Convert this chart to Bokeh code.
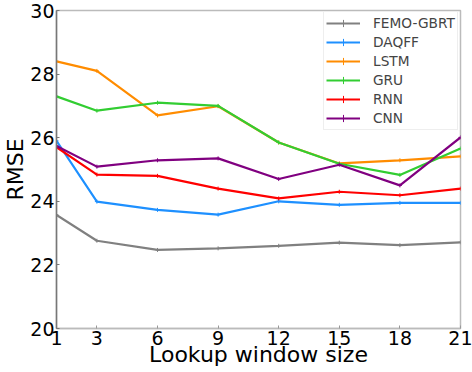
from bokeh.plotting import figure
from bokeh.models import Range1d, FixedTicker, Legend, LegendItem
from bokeh.embed import file_html
from bokeh.resources import INLINE

windows = [1, 3, 6, 9, 12, 15, 18, 21]
femo_gbrt = [23.57, 22.76, 22.47, 22.52, 22.60, 22.70, 22.62, 22.71]
daqff = [25.90, 23.99, 23.73, 23.58, 24.00, 23.89, 23.95, 23.95]
lstm = [28.40, 28.10, 26.70, 26.99, 25.85, 25.19, 25.29, 25.41]
gru = [27.30, 26.85, 27.10, 27.00, 25.85, 25.18, 24.83, 25.66]
rnn = [25.70, 24.84, 24.80, 24.40, 24.09, 24.30, 24.19, 24.40]
cnn = [25.74, 25.09, 25.29, 25.35, 24.70, 25.15, 24.50, 26.01]
x_ticks = [1, 3, 6, 9, 12, 15, 18, 21]
y_ticks = [20, 22, 24, 26, 28, 30]

series = [
    ("FEMO-GBRT", femo_gbrt, "#808080"),
    ("DAQFF", daqff, "#1E90FF"),
    ("LSTM", lstm, "#FF8C00"),
    ("GRU", gru, "#32CD32"),
    ("RNN", rnn, "#FF0000"),
    ("CNN", cnn, "#800080"),
]

FONT = "DejaVu Sans"

p = figure(width=472, height=372, output_backend="svg", toolbar_location=None,
           x_range=Range1d(1, 21), y_range=Range1d(20, 30),
           min_border_left=51, min_border_right=12, min_border_top=10, min_border_bottom=44)

p.xgrid.visible = False
p.ygrid.visible = False
p.outline_line_color = "#bbbbbb"
p.outline_line_width = 1.5

items = []
for name, vals, col in series:
    r1 = p.line(windows, vals, line_color=col, line_width=2.2)
    r2 = p.scatter(windows, vals, marker="cross", size=4, line_width=1, color=col)
    items.append(LegendItem(label=name, renderers=[r1, r2]))

legend = Legend(items=items, location=(267, 198))
legend.label_text_font = FONT
legend.label_text_font_size = "13.7px"
legend.glyph_width = 34
legend.glyph_height = 18
legend.label_height = 18
legend.spacing = 1
legend.padding = 2
legend.margin = 0
legend.label_standoff = 13
legend.border_line_color = "#dddddd"
legend.border_line_width = 1
legend.background_fill_alpha = 0.9
p.add_layout(legend)

for ax in (p.xaxis[0], p.yaxis[0]):
    ax.major_label_text_font = FONT
    ax.major_label_text_font_size = "19px"
    ax.major_label_text_color = "black"
    ax.axis_label_text_font = FONT
    ax.axis_label_text_font_size = "22px"
    ax.axis_label_text_font_style = "normal"
    ax.axis_label_text_color = "black"
    ax.minor_tick_line_color = None
    ax.major_tick_in = 3
    ax.major_tick_out = 0
    ax.major_label_standoff = 2

p.xaxis.axis_label_standoff = -6
p.yaxis.axis_label_standoff = -1

p.xaxis.ticker = FixedTicker(ticks=x_ticks)
p.yaxis.ticker = FixedTicker(ticks=y_ticks)
p.xaxis.axis_label = "Lookup window size"
p.yaxis.axis_label = "RMSE"
p.yaxis.axis_line_color = "#777777"
p.yaxis.major_tick_line_color = "#777777"
p.xaxis.axis_line_color = "#bbbbbb"
p.xaxis.major_tick_line_color = "#999999"
p.yaxis.axis_line_width = 1.5
p.xaxis.axis_line_width = 1.5

open("out.html", "w").write(file_html(p, INLINE))
